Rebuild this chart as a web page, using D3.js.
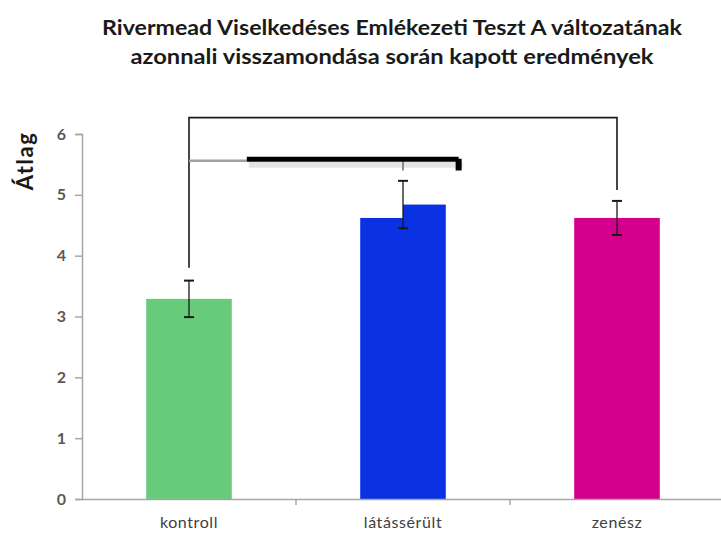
<!DOCTYPE html>
<html><head><meta charset="utf-8">
<script src="https://cdn.jsdelivr.net/npm/d3@7/dist/d3.min.js"></script>
<style>body{margin:0;background:#fff}svg{display:block}</style>
</head><body>
<script>
const categories = ["kontroll", "látássérült", "zenész"];
const means = [3.29, 4.84, 4.62];
const errors = [0.30, 0.39, 0.28];
const colors = ["#68cb7b", "#0a32e3", "#d4008d"];
const yTicks = [0, 1, 2, 3, 4, 5, 6];
const titleLines = ["Rivermead Viselkedéses Emlékezeti Teszt A változatának", "azonnali visszamondása során kapott eredmények"];
const yLabel = "Átlag";
// significance brackets: [fromIndex, toIndex, startValue, topValue, endValue]
const outerBracket = [0, 2, 3.8, 6.27, 5.08];
const innerBracketLevel = 5.56;
const innerBracketEnd = 5.4;
const patchValues = [5.4, 4.62];

const W = 721, H = 533;
const m = {left: 82, right: -3, top: 134, bottom: 34};
const svg = d3.select("body").append("svg").attr("width", W).attr("height", H);

const x = d3.scaleBand().domain(categories).range([m.left, W - m.right]).paddingInner(0.6).paddingOuter(0.3);
const xb = d3.scaleBand().domain(categories).range([m.left, W - m.right]);
const y = d3.scaleLinear().domain([0, 6]).range([H - m.bottom, m.top]);

// title
svg.append("g").selectAll("text").data(titleLines).join("text")
  .attr("x", 392).attr("y", (d, i) => 35 + i * 29)
  .attr("text-anchor", "middle")
  .attr("font-family", "Lato, 'Open Sans', sans-serif").attr("font-weight", "bold")
  .attr("font-size", 20).attr("fill", "#1a1a1a")
  .attr("textLength", (d, i) => i === 0 ? 580 : 523).attr("lengthAdjust", "spacingAndGlyphs")
  .text(d => d);

// y label
svg.append("text").attr("transform", "translate(33,161) rotate(-90)")
  .attr("text-anchor", "middle").attr("font-family", "Lato, 'Open Sans', sans-serif")
  .attr("font-weight", "bold").attr("font-size", 22).attr("letter-spacing", 1.5).attr("fill", "#1a1a1a").text(yLabel);

// bars
const cx = d => xb(d) + xb.bandwidth() / 2;
svg.append("g").selectAll("rect").data(categories).join("rect")
  .attr("x", d => cx(d) - x.bandwidth() / 2).attr("width", x.bandwidth())
  .attr("y", (d, i) => y(means[i])).attr("height", (d, i) => y(0) - y(means[i]))
  .attr("fill", (d, i) => colors[i]);

// white patch over top-left of second bar
svg.append("rect")
  .attr("x", cx(categories[1]) - x.bandwidth() / 2 - 1).attr("width", x.bandwidth() / 2 + 1)
  .attr("y", y(patchValues[0])).attr("height", y(patchValues[1]) - y(patchValues[0]))
  .attr("fill", "#fff");

// y axis
const ya = svg.append("g").attr("transform", `translate(${m.left},0)`)
  .call(d3.axisLeft(y).tickValues(yTicks).tickSize(7).tickPadding(9).tickFormat(d3.format("d")));
ya.select(".domain").attr("stroke", "#a6a6a6").attr("stroke-width", 1.5);
ya.selectAll(".tick line").attr("stroke", "#a6a6a6").attr("stroke-width", 1.5);
ya.selectAll(".tick text").attr("font-family", "Lato, 'Open Sans', sans-serif").attr("font-weight", "bold")
  .attr("font-size", 16).attr("fill", "#595959");

// x axis
const xa = svg.append("g").attr("transform", `translate(0,${y(0)})`)
  .call(d3.axisBottom(xb).tickSize(0).tickPadding(18));
xa.select(".domain").attr("stroke", "#a6a6a6").attr("stroke-width", 1.5);
xa.selectAll(".tick text").attr("font-family", "Lato, 'Open Sans', sans-serif")
  .attr("font-size", 16).attr("letter-spacing", 0.6).attr("fill", "#404040");
xa.append("g").selectAll("line").data(categories.slice(1)).join("line")
  .attr("x1", d => xb(d)).attr("x2", d => xb(d)).attr("y1", 0).attr("y2", 6)
  .attr("stroke", "#a6a6a6").attr("stroke-width", 1.5);

// error bars
const eb = svg.append("g").attr("stroke", "#1a1a1a").attr("stroke-width", 1.3);
categories.forEach((c, i) => {
  const px = cx(c);
  eb.append("line").attr("x1", px).attr("x2", px).attr("y1", y(means[i] + errors[i])).attr("y2", y(means[i] - errors[i]));
  [means[i] + errors[i], means[i] - errors[i]].forEach(v =>
    eb.append("line").attr("x1", px - 5).attr("x2", px + 5).attr("y1", y(v)).attr("y2", y(v)).attr("stroke-width", 2));
});

// outer bracket
const ob = outerBracket;
svg.append("path")
  .attr("d", `M${cx(categories[ob[0]])},${y(ob[2])}V${y(ob[3])}H${cx(categories[ob[1]])}V${y(ob[4])}`)
  .attr("fill", "none").attr("stroke", "#1a1a1a").attr("stroke-width", 1.6);

// inner bracket: grey thin start, thick black bar with shadow
const x0 = cx(categories[0]);
const x1 = cx(categories[1]);
const thickStart = x0 + (x1 - x0) * 0.27;
const thickEnd = x1 + (x1 - x0) * 0.26;
svg.append("line").attr("x1", x0).attr("x2", thickStart).attr("y1", y(innerBracketLevel)).attr("y2", y(innerBracketLevel))
  .attr("stroke", "#a0a0a0").attr("stroke-width", 2.5);
svg.append("line").attr("x1", thickStart + 2).attr("x2", thickEnd + 4).attr("y1", y(innerBracketLevel) + 4).attr("y2", y(innerBracketLevel) + 4)
  .attr("stroke", "#e4e4e4").attr("stroke-width", 6);
svg.append("line").attr("x1", x1).attr("x2", x1).attr("y1", y(innerBracketLevel)).attr("y2", y(innerBracketEnd))
  .attr("stroke", "#8a8a8a").attr("stroke-width", 2);
svg.append("line").attr("x1", thickStart).attr("x2", thickEnd).attr("y1", y(innerBracketLevel) - 1.5).attr("y2", y(innerBracketLevel) - 1.5)
  .attr("stroke", "#000").attr("stroke-width", 5);
svg.append("rect").attr("x", thickEnd - 3).attr("width", 6)
  .attr("y", y(innerBracketLevel) - 2).attr("height", y(innerBracketEnd) - y(innerBracketLevel) + 2)
  .attr("fill", "#000");
</script>
</body></html>
